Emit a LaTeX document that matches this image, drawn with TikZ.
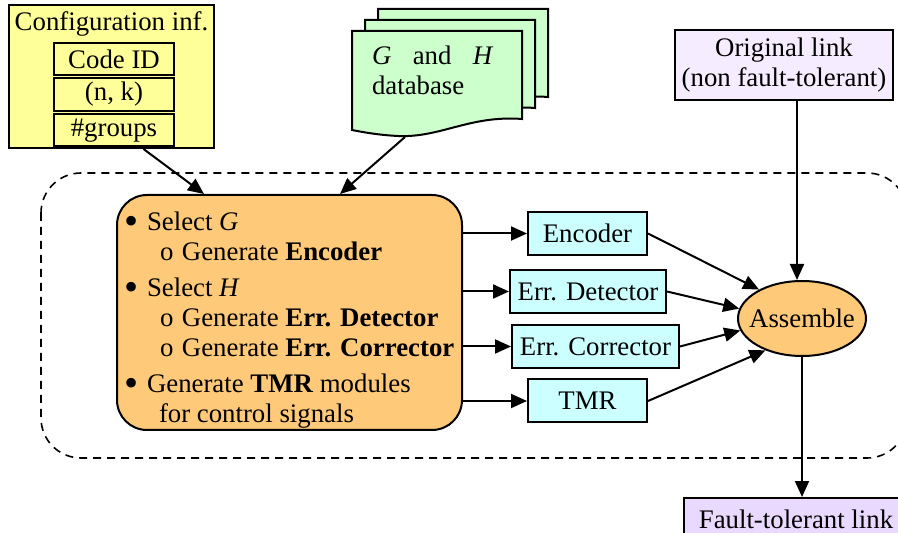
\documentclass[tikz,border=0pt]{standalone}
\usepackage{fontspec}
\setmainfont{Liberation Serif}
\usepackage{tikz}
\usetikzlibrary{arrows.meta, positioning, shapes.geometric, calc}
\definecolor{colYellow}  {HTML}{FFFF99}
\definecolor{colGreen}   {HTML}{CCFFCC}
\definecolor{colCyan}    {HTML}{CCFFFF}
\definecolor{colOrange}  {HTML}{FFC97A}
\definecolor{colLilac}   {HTML}{F5EDFF}
\definecolor{colLilacDk} {HTML}{EAD9FF}
\newcommand{\genbul}{\makebox[11.5pt][l]{\raisebox{-2.2pt}{\scalebox{1.5}{\textbullet}}}}
\newcommand{\gensub}{\hspace{18pt}\makebox[11pt][l]{o}}
\tikzset{
  box/.style={
    draw, line width=1pt, align=center, inner sep=2pt,
    font=\fontsize{13.4}{15}\selectfont
  },
  cfgbox/.style  ={box, fill=colYellow},
  fieldbox/.style={box, fill=colYellow, minimum width=60pt, minimum height=16pt},
  modbox/.style  ={box, fill=colCyan, minimum height=21.5pt},
  linkbox/.style ={box, fill=colLilac},
  genbox/.style  ={box, fill=colOrange, rounded corners=15pt},
  asmnode/.style ={box, ellipse, fill=colOrange, inner xsep=-3.8pt, inner ysep=7pt},
  sheet/.style   ={draw, line width=1pt, fill=colGreen},
  arr/.style     ={-{Triangle[length=8pt,width=7pt]}, line width=1pt},
  region/.style  ={draw, dashed, dash pattern=on 4pt off 3pt,
                   line width=0.8pt, rounded corners=20pt}
}

\begin{document}
\begin{tikzpicture}[x=0.5pt, y=-0.5pt]
  \useasboundingbox (0,0) rectangle (898,533);
  \draw[region] (41,173) rectangle (907,458);

  % configuration input
  \node[cfgbox, minimum width=102.5pt, minimum height=71.5pt] (cfg) at (111.5,76.5) {};
  \node[box, draw=none] (cfgtitle) at (111.5,24) {Configuration inf.};
  \node[fieldbox] (cid)  at (114,59.5)  {Code ID};
  \node[fieldbox] (nk)   at (114,94.5)  {(n, k)};
  \node[fieldbox] (grp)  at (114,130.5) {\#groups};

  % G and H database (stacked sheets)
  \foreach \dx/\dy in {26/-22, 13/-11, 0/0}{
    \draw[sheet, shift={(\dx,\dy)}] (352,31) -- (522,31) -- (522,119)
      .. controls (470,115) and (440,138) .. (398,136)
      .. controls (378,135) and (362,132) .. (352,130) -- cycle;
  }
  \node[box, draw=none, anchor=north west, align=left, inner sep=0pt] (db) at (371,45)
    {\textit{G}\hspace{0.8em}and\hspace{0.8em}\textit{H}\\database};
  \coordinate (dbout) at (405,137);

  % generator block
  \node[genbox, minimum width=172.5pt, minimum height=117.5pt] (gen) at (289.5,312.5) {};
  \node[box, draw=none, anchor=north west, align=left, inner sep=0pt] (gentext) at (123,211)
    {\genbul Select \textit{G}\\
     \gensub Generate \textbf{Encoder}\\[3pt]
     \genbul Select \textit{H}\\
     \gensub Generate \textbf{Err. Detector}\\
     \gensub Generate \textbf{Err. Corrector}\\[3pt]
     \genbul Generate \textbf{TMR} modules\\
     \hspace{17.5pt}for control signals};

  % generated modules
  \node[modbox, minimum width=59.5pt] (enc) at (587.5,233.5) {Encoder};
  \node[modbox, minimum width=78pt]   (det) at (588,291.5)   {Err. Detector};
  \node[modbox, minimum width=83.5pt] (cor) at (595.5,346.5) {Err. Corrector};
  \node[modbox, minimum width=59.5pt] (tmr) at (587.5,401)   {TMR};

  \node[asmnode, minimum width=64pt, minimum height=37.5pt] (asm) at (802,318.5) {Assemble};

  \node[linkbox, minimum width=109pt, minimum height=35pt] (orig) at (784,65)
    {Original link\\(non fault-tolerant)};
  \node[linkbox, fill=colLilacDk, minimum width=112pt, minimum height=21pt] (ftl) at (796,519)
    {Fault-tolerant link};

  % connectors
  \draw[arr] ($(cfg.south)+(32,0)$) -- ($(gen.north west)+(88,0)$);
  \draw[arr] (dbout) -- ($(gen.north)+(50.5,0)$);
  \foreach \m in {enc, det, cor, tmr}
    \draw[arr] (gen.east |- \m.west) -- (\m.west);
  \draw[arr] (enc.east) -- (asm.146);
  \draw[arr] (det.east) -- (asm.171);
  \draw[arr] (cor.east) -- (asm.191);
  \draw[arr] (tmr.east) -- (asm.221);
  \draw[arr] ($(orig.south)+(13,0)$) coordinate (o1) -- (o1 |- asm.north);
  \draw[arr] (asm.south) -- (asm.south |- ftl.north);
\end{tikzpicture}
\end{document}
